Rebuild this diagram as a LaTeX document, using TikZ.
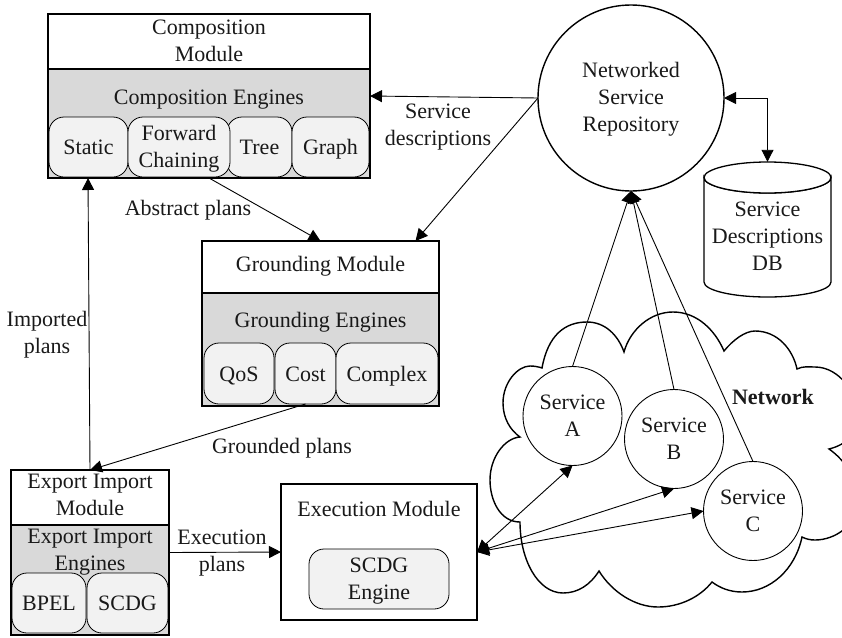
\documentclass[tikz,border=0pt]{standalone}
\usepackage{fontspec}
\setmainfont{Liberation Serif}
\usetikzlibrary{arrows.meta,calc}
\definecolor{enginegray}{HTML}{D9D9D9}
\definecolor{innergray}{HTML}{F2F2F2}
\tikzset{
  txt/.style={font=\fontsize{22}{27}\selectfont,align=center,inner sep=0pt,text=black!90},
  tb/.style={text height=#1,text depth=5pt},
  sized/.style n args={2}{minimum width=#1,minimum height=#2,inner sep=0pt,outer sep=0pt},
  headbox/.style={txt,draw,line width=1.5pt,fill=white},
  bodybox/.style={txt,draw,line width=1.5pt,fill=enginegray},
  innerbox/.style={txt,draw,line width=0.8pt,fill=innergray,rounded corners=15pt},
  circ/.style={txt,circle,draw,fill=white,inner sep=0pt,outer sep=0pt},
  conn/.style={line width=0.9pt,-{Triangle[length=12pt,width=12pt]}},
  conntwo/.style={line width=0.9pt,{Triangle[length=12pt,width=12pt]}-{Triangle[length=12pt,width=12pt]}},
}
\begin{document}
\begin{tikzpicture}[x=1pt,y=-1pt]
\useasboundingbox (0,0) rectangle (842,637);
\clip (0,0) rectangle (842,637);
% Network cloud
\draw[line width=1.4pt,fill=white] (542,368)
  .. controls (548,335) and (565,322) .. (587,322)
  .. controls (605,322) and (618,335) .. (624,352)
  .. controls (630,330) and (650,312) .. (673,312)
  .. controls (697,312) and (715,330) .. (724,351)
  .. controls (733,340) and (745,331) .. (755,331)
  .. controls (778,331) and (793,350) .. (797,369)
  .. controls (803,366) and (808,367) .. (815,367)
  .. controls (840,367) and (858,395) .. (858,415)
  .. controls (858,435) and (845,445) .. (829,449)
  .. controls (845,460) and (858,480) .. (858,500)
  .. controls (858,525) and (835,540) .. (815,540)
  .. controls (810,540) and (806,539) .. (802,537)
  .. controls (795,570) and (770,592) .. (742,592)
  .. controls (730,592) and (720,588) .. (712,582)
  .. controls (700,597) and (680,607) .. (658,607)
  .. controls (635,607) and (612,592) .. (599,571)
  .. controls (590,585) and (578,593) .. (563,593)
  .. controls (538,593) and (520,560) .. (520,522)
  .. controls (500,522) and (490,500) .. (490,480)
  .. controls (490,457) and (505,438) .. (520,437)
  .. controls (510,430) and (503,418) .. (503,403)
  .. controls (503,382) and (518,366) .. (530,366)
  .. controls (535,366) and (539,367) .. (542,368) -- cycle;
\node[txt,tb=15pt,font=\fontsize{22}{27}\selectfont\bfseries] (netlabel) at (773,399) {Network};

% Composition module
\node[headbox,tb=44pt,sized={322}{55}] (comphead) at (209,41.5) {Composition\\Module};
\node[bodybox,sized={322}{109}] (compbody) at (209,123.5) {};
\node[txt,tb=15pt] (comptitle) at (209,99) {Composition Engines};
\node[innerbox,tb=20pt,sized={65}{60}] (tree) at (259.5,147) {Tree};
\node[innerbox,tb=20pt,sized={79}{60}] (static) at (88.5,147) {Static};
\node[innerbox,tb=46pt,sized={102}{60}] (forward) at (179,147) {Forward\\Chaining};
\node[innerbox,tb=20pt,sized={77}{60}] (graph) at (330.5,147) {Graph};
\node[sized={322}{164},draw,line width=1.5pt] (comp) at (209,96) {};

% Grounding module
\node[headbox,tb=14.5pt,sized={237}{52}] (grdhead) at (320.5,267) {Grounding Module};
\node[bodybox,sized={237}{113}] (grdbody) at (320.5,349.5) {};
\node[txt,tb=15pt] (grdtitle) at (320.5,322.7) {Grounding Engines};
\node[innerbox,tb=21.4pt,sized={70}{61}] (qos) at (239,373.5) {QoS};
\node[innerbox,tb=21.4pt,sized={61}{61}] (cost) at (305.5,373.5) {Cost};
\node[innerbox,tb=21.4pt,sized={102}{61}] (complex) at (387,373.5) {Complex};
\node[sized={237}{165},draw,line width=1.5pt] (grd) at (320.5,323.5) {};

% Export import module
\node[headbox,tb=40pt,sized={158}{55}] (exphead) at (90,497.5) {Export Import\\Module};
\node[bodybox,sized={158}{110}] (expbody) at (90,580) {};
\node[txt,tb=42pt] (exptitle) at (90,551.5) {Export Import\\Engines};
\node[innerbox,tb=19pt,sized={74}{60}] (bpel) at (49,603) {BPEL};
\node[innerbox,tb=19pt,sized={81}{60}] (scdg) at (127.5,603) {SCDG};
\node[sized={158}{165},draw,line width=1.5pt] (expmod) at (90,552.5) {};

% Execution module
\node[headbox,sized={196}{136}] (exec) at (379,552) {};
\node[txt,tb=15pt] (exectitle) at (379,511) {Execution Module};
\node[innerbox,tb=45pt,sized={140}{60}] (scdgeng) at (379,579) {SCDG\\Engine};

% Repository and database
\node[circ,tb=71pt,line width=1.4pt,minimum size=186pt] (repo) at (631,98) {Networked\\Service\\Repository};
\node[txt,minimum width=127pt,minimum height=135pt] (db) at (767.5,229.5) {};
\draw[line width=1.3pt,fill=white] (704,177.5)
  .. controls (704,186) and (733,193) .. (767.5,193)
  .. controls (802,193) and (831,186) .. (831,177.5)
  -- (831,282)
  .. controls (831,290.5) and (802,297) .. (767.5,297)
  .. controls (733,297) and (704,290.5) .. (704,282) -- cycle;
\draw[line width=1.3pt,fill=white] (704,177.5)
  .. controls (704,169) and (733,162) .. (767.5,162)
  .. controls (802,162) and (831,169) .. (831,177.5)
  .. controls (831,186) and (802,193) .. (767.5,193)
  .. controls (733,193) and (704,186) .. (704,177.5) -- cycle;
\node[txt,tb=69pt] (dblabel) at (767.5,238.7) {Service\\Descriptions\\DB};

% Services
\node[circ,tb=45pt,line width=0.9pt,minimum size=99pt] (svca) at (572.5,416) {Service\\A};
\node[circ,tb=45pt,line width=0.9pt,minimum size=99pt] (svcb) at (674,439) {Service\\B};
\node[circ,tb=45pt,line width=0.9pt,minimum size=99pt] (svcc) at (753,511) {Service\\C};

% Connectors
\draw[conn] (comp.south) -- (grd.north);
\draw[conn] (repo.west) -- (comp.east);
\draw[conn] (repo.west) -- ([xshift=95pt]grd.north);
\draw[conn] (expmod.north) -- ([xshift=-121pt]comp.south);
\draw[conn] (cost.south) -- (expmod.north);
\draw[conn] (expmod.east) -- (exec.west);
\draw[conntwo] (repo.east) -| (db.north);
\draw[conn] (svca.north) -- (repo.south);
\draw[conn] (svcb.north) -- (repo.south);
\draw[conn] (svcc.north) -- (repo.south);
\draw[conntwo] (exec.east) -- (svca.south);
\draw[conntwo] (exec.east) -- (svcb.south);
\draw[conntwo] (exec.east) -- (svcc.west);

% Connector labels
\node[txt,tb=42pt] (lbldesc) at (438,127.2) {Service\\descriptions};
\node[txt,tb=15pt] (lblabs) at (188,210) {Abstract plans};
\node[txt,tb=42pt] (lblimp) at (47,334.8) {Imported\\plans};
\node[txt,tb=15pt] (lblgrd) at (282,448) {Grounded plans};
\node[txt,tb=42pt] (lblexe) at (222,552.5) {Execution\\plans};
\end{tikzpicture}
\end{document}
